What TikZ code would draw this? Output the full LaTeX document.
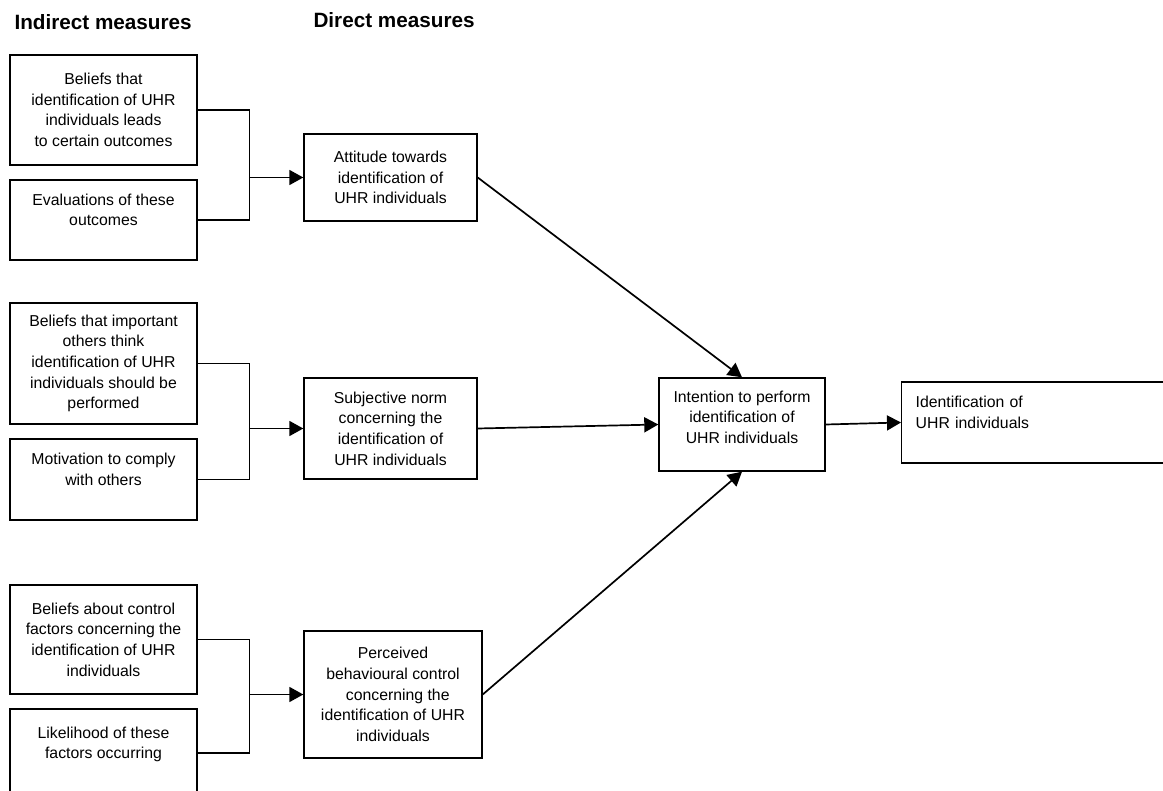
\documentclass[tikz,border=0pt]{standalone}
\usepackage{fontspec}
\setmainfont{Liberation Sans}
\usetikzlibrary{arrows.meta}

\begin{document}
\begin{tikzpicture}[x=1pt,y=-1pt,
  box/.style={draw,line width=1.4pt,align=center,inner sep=0pt,
    font=\fontsize{15.8}{20.7}\selectfont},
  heading/.style={anchor=west,font=\fontsize{20.7}{24}\selectfont\bfseries},
  link/.style={line width=1.4pt},
  arr/.style={line width=1.7pt,-{Triangle[length=14pt,width=15pt]}}]
\useasboundingbox (0,0) rectangle (1163,791);

\node[heading] (indirect) at (11,22) {Indirect measures};
\node[heading] (direct) at (310,20) {Direct measures};

% indirect measures
\node[box,minimum width=187,minimum height=110] (bel1) at (103.5,110)
  {Beliefs that\\identification of UHR\\individuals leads\\to certain outcomes};
\node[box,minimum width=187,minimum height=80] (eval) at (103.5,220)
  {Evaluations of these\\outcomes\\\mbox{}};
\node[box,minimum width=187,minimum height=121] (bel2) at (103.5,363.5)
  {Beliefs that important\\others think\\identification of UHR\\individuals should be\\performed};
\node[box,minimum width=187,minimum height=81] (motiv) at (103.5,479.5)
  {Motivation to comply\\with others\\\mbox{}};
\node[box,minimum width=187,minimum height=109] (bel3) at (103.5,639.5)
  {Beliefs about control\\factors concerning the\\identification of UHR\\individuals};
\node[box,minimum width=187,minimum height=88] (likely) at (103.5,753)
  {Likelihood of these\\factors occurring\\\mbox{}};

% direct measures
\node[box,minimum width=173,minimum height=87] (att) at (390.5,177.5)
  {Attitude towards\\identification of\\UHR individuals};
\node[box,minimum width=173,minimum height=101] (norm) at (390.5,428.5)
  {Subjective norm\\concerning the\\identification of\\UHR individuals};
\node[box,minimum width=178,minimum height=127] (pbc) at (393,694.5)
  {Perceived\\behavioural control\\\hspace*{0.6em}concerning the\\identification of UHR\\individuals};

\node[box,minimum width=166,minimum height=93] (intent) at (742,424.5)
  {Intention to perform\\identification of\\UHR individuals\\[-6pt]\mbox{}};
\node[box,anchor=west,minimum height=81,text width=272pt,align=left,inner xsep=14pt] (ident) at (901,422.5)
  {Identification of\\UHR individuals\\\mbox{}};

% brackets
\coordinate (j1) at ([xshift=-54pt]att.west);
\coordinate (j2) at ([xshift=-54pt]norm.west);
\coordinate (j3) at ([xshift=-54pt]pbc.west);
\draw[link] (bel1.east) -| (j1) |- (eval.east);
\draw[link] (bel2.east) -| (j2) |- (motiv.east);
\draw[link] (bel3.east) -| (j3) |- (likely.east);
\draw[arr] (j1) -- (att.west);
\draw[arr] (j2) -- (norm.west);
\draw[arr] (j3) -- (pbc.west);

\draw[arr] (att.east) -- (intent.north);
\draw[arr] (norm.east) -- (intent.west);
\draw[arr] (pbc.east) -- (intent.south);
\draw[arr] (intent.east) -- (ident.west);
\end{tikzpicture}
\end{document}
